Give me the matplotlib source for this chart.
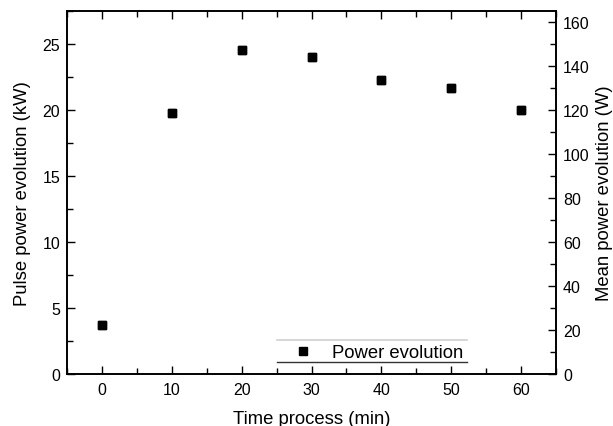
import matplotlib
matplotlib.use("Agg")
import matplotlib.pyplot as plt
from matplotlib.lines import Line2D
from matplotlib.ticker import MultipleLocator

time_min = [0, 10, 20, 30, 40, 50, 60]
pulse_kw = [3.75, 19.75, 24.55, 24.0, 22.25, 21.65, 20.0]
mean_w = [22.5, 118.5, 147.3, 144.0, 133.5, 129.9, 120.0]

plt.rcParams['font.family'] = ['Liberation Sans', 'DejaVu Sans']

fig = plt.figure(figsize=(6.13, 4.27), dpi=100)
ax = fig.add_axes([67/613, 1-375/427, (556-67)/613, (375-12)/427])
ax2 = ax.twinx()

ax.plot(time_min, pulse_kw, linestyle='none', marker='s', markersize=5.3,
        color='black', label='Power evolution')
ax2.plot(time_min, mean_w, linestyle='none', marker='s', markersize=5.3,
         color='black')

ax.set_xlim(-5, 65)
ax.set_ylim(0, 27.5)
ax2.set_ylim(0, 165)

ax.xaxis.set_major_locator(MultipleLocator(10))
ax.xaxis.set_minor_locator(MultipleLocator(5))
ax.yaxis.set_major_locator(MultipleLocator(5))
ax.yaxis.set_minor_locator(MultipleLocator(2.5))
ax2.yaxis.set_major_locator(MultipleLocator(20))
ax2.yaxis.set_minor_locator(MultipleLocator(10))

ax.tick_params(axis='x', which='both', direction='in', top=True, bottom=True, labelsize=11.5, pad=6)
ax.tick_params(axis='y', which='both', direction='in', left=True, right=False, labelsize=11.5, pad=5)
ax.tick_params(which='major', length=6, width=1)
ax.tick_params(which='minor', length=4, width=1)
ax2.tick_params(axis='y', which='both', direction='in', labelsize=11.5, pad=5)
ax2.tick_params(which='major', length=6, width=1)
ax2.tick_params(which='minor', length=4, width=1)

for a in (ax, ax2):
    for s in a.spines.values():
        s.set_linewidth(1.2)

ax.set_xlabel('Time process (min)', fontsize=13.3, labelpad=9)
ax.set_ylabel('Pulse power evolution (kW)', fontsize=13.3, labelpad=8)
ax2.set_ylabel('Mean power evolution (W)', fontsize=13.3, labelpad=4.5)

leg = ax.legend(loc='lower left', bbox_to_anchor=(0.414, -0.005), frameon=False,
                fontsize=13.3, handletextpad=0.6, borderpad=0.3)

x0, x1 = (277-67)/489, (467-67)/489
ax.add_line(Line2D([x0, x1], [(375-341)/363]*2, transform=ax.transAxes,
                   color='#d0d0d0', linewidth=1.2))
ax.add_line(Line2D([x0, x1], [(375-363)/363]*2, transform=ax.transAxes,
                   color='#333333', linewidth=1.0))

fig.savefig('out.png', dpi=100)
